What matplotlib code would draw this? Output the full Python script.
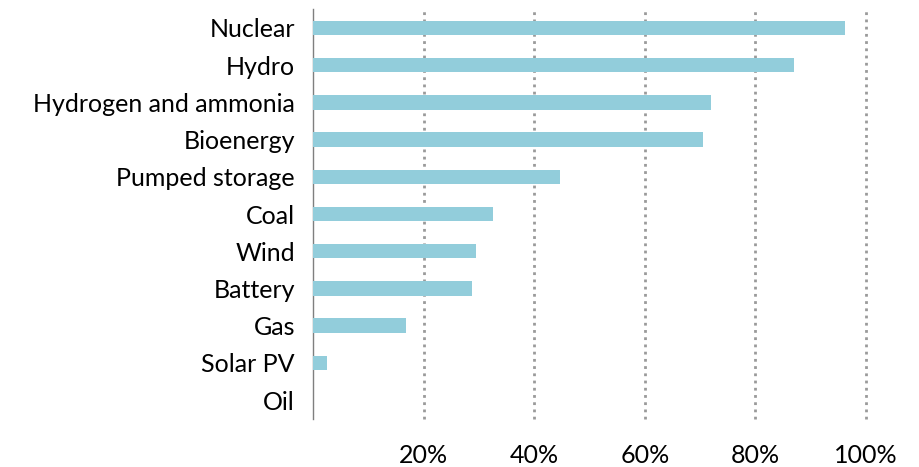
import matplotlib

matplotlib.use("Agg")

import matplotlib.pyplot as plt
from matplotlib.ticker import FuncFormatter

CATEGORIES = [
    "Nuclear",
    "Hydro",
    "Hydrogen and ammonia",
    "Bioenergy",
    "Pumped storage",
    "Coal",
    "Wind",
    "Battery",
    "Gas",
    "Solar PV",
    "Oil",
]
SHARES = [96.2, 86.9, 72.0, 70.6, 44.7, 32.6, 29.5, 28.8, 16.9, 2.6, 0.0]
X_TICKS = [20, 40, 60, 80, 100]

BAR_COLOR = "#92cddb"
GRID_COLOR = "#9a9a9a"

plt.rcParams["font.family"] = ["Lato", "DejaVu Sans"]

fig = plt.figure(figsize=(9.19, 4.67), dpi=100)
ax = fig.add_axes([0.3406, 0.1036, 0.6017, 0.8763])

y = list(range(len(CATEGORIES)))
ax.barh(y, SHARES, height=0.39, color=BAR_COLOR, zorder=3)

ax.set_xlim(0, 100)
ax.set_ylim(len(CATEGORIES) - 0.5, -0.5)
ax.set_yticks(y)
ax.set_yticklabels(CATEGORIES, fontsize=18)
ax.set_xticks(X_TICKS)
ax.xaxis.set_major_formatter(FuncFormatter(lambda v, _: f"{v:.0f}%"))
ax.tick_params(axis="x", length=0, pad=18, labelsize=18)
ax.tick_params(axis="y", length=0, pad=13)

# dotted vertical gridlines, no line at 0 (the spine sits there)
for t in X_TICKS:
    ax.axvline(t, color=GRID_COLOR, linewidth=2.0, linestyle=(0, (1.0, 1.6)),
               zorder=1, clip_on=False)

for side in ("top", "right", "bottom"):
    ax.spines[side].set_visible(False)
ax.spines["left"].set_color("#7f7f7f")
ax.spines["left"].set_linewidth(1.0)

fig.savefig("out.png", dpi=100)
